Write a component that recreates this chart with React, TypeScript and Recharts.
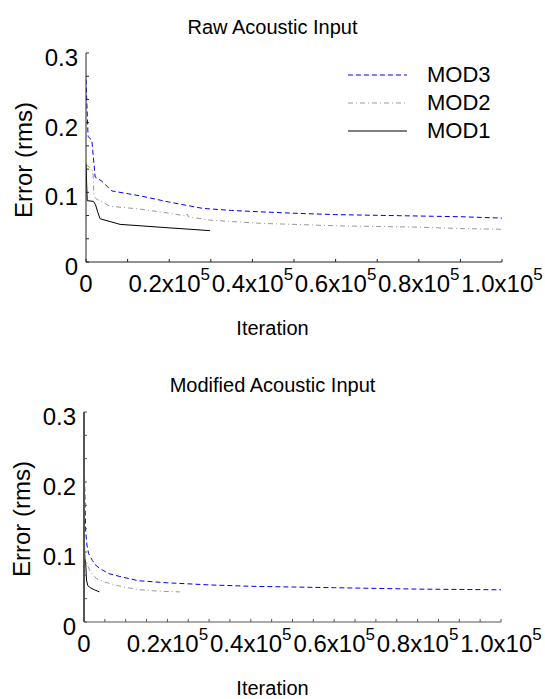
import React from "react";
import { LineChart, Line, XAxis, YAxis } from "recharts";

const FONT = '"Liberation Sans", Arial, Helvetica, sans-serif';

// axis ticks
const xMajorTicks = [0, 20000, 40000, 60000, 80000, 100000];
const xMajorLabels = ["0", "0.2", "0.4", "0.6", "0.8", "1.0"];
const yMajorTicks = [0, 0.1, 0.2, 0.3];
const yMajorLabels = ["0", "0.1", "0.2", "0.3"];

// Raw Acoustic Input  [iteration, error]
const rawMod3: [number, number][] = [
  [0, 0.262], [500, 0.18], [1400, 0.175], [2200, 0.122], [3800, 0.116],
  [6200, 0.102], [13000, 0.095], [20000, 0.086], [28000, 0.077], [35000, 0.074],
  [42000, 0.072], [50000, 0.07], [60000, 0.068], [70000, 0.067], [80000, 0.066],
  [90000, 0.065], [100000, 0.063],
];
const rawMod2: [number, number][] = [
  [0, 0.14], [1400, 0.133], [1700, 0.128], [1900, 0.094], [2600, 0.09],
  [5800, 0.08], [13000, 0.076], [20000, 0.07], [24000, 0.066], [24300, 0.069],
  [24600, 0.065], [30000, 0.06], [42000, 0.0555], [50000, 0.054], [60000, 0.052],
  [70000, 0.051], [80000, 0.05], [90000, 0.048], [100000, 0.047],
];
const rawMod1: [number, number][] = [
  [0, 0.14], [300, 0.088], [1800, 0.087], [2300, 0.082], [2800, 0.072],
  [3400, 0.062], [5800, 0.058], [8200, 0.054], [13000, 0.052], [20000, 0.049],
  [25000, 0.047], [29800, 0.045],
];

// Modified Acoustic Input
const modMod3: [number, number][] = [
  [0, 0.262], [150, 0.2], [250, 0.17], [400, 0.13], [700, 0.11], [1100, 0.098],
  [2000, 0.088], [3000, 0.08], [4500, 0.074], [6000, 0.069], [8600, 0.065],
  [13000, 0.059], [20000, 0.056], [30000, 0.053], [40000, 0.051], [50000, 0.05],
  [60000, 0.049], [70000, 0.048], [80000, 0.047], [90000, 0.0465], [100000, 0.046],
];
const modMod2: [number, number][] = [
  [0, 0.13], [200, 0.09], [600, 0.085], [1500, 0.072], [3000, 0.062],
  [5000, 0.057], [7400, 0.053], [10000, 0.0495], [13400, 0.046], [18000, 0.044],
  [23000, 0.043],
];
const modMod1: [number, number][] = [
  [0, 0.14], [200, 0.09], [400, 0.085], [600, 0.06], [900, 0.052],
  [1500, 0.049], [2500, 0.046], [3700, 0.043],
];

const toPoints = (arr: [number, number][]) => arr.map(([x, y]) => ({ x, y }));

const series = [
  { name: "MOD3", stroke: "#0000ff", dash: "5 3" },
  { name: "MOD2", stroke: "#999999", dash: "5 3 1 3" },
  { name: "MOD1", stroke: "#000000", dash: undefined },
];

const TICK_FONT = 24;

const makeXTick = (axisColor: string, axisY: number) => (props: any) => {
  const { x, payload } = props;
  const y = axisY;
  const idx = xMajorTicks.indexOf(payload.value);
  return (
    <g>
      <line x1={x} x2={x} y1={y} y2={y - 3} stroke={axisColor} />
      {idx === 0 && (
        <text x={x} y={y + 30} textAnchor="middle" fontSize={TICK_FONT} fill="#000" fontFamily={FONT}>0</text>
      )}
      {idx > 0 && (
        <text x={x} y={y + 30} textAnchor="middle" fontSize={TICK_FONT} fill="#000" fontFamily={FONT}>
          {xMajorLabels[idx]}x10<tspan dy={-12} fontSize={17}>5</tspan>
        </text>
      )}
    </g>
  );
};

const makeYTick = (axisColor: string, axisX: number) => (props: any) => {
  const { y, payload } = props;
  const x = axisX;
  const idx = yMajorTicks.findIndex((t) => Math.abs(t - payload.value) < 1e-6);
  return (
    <g>
      <line x1={x} x2={x + 3} y1={y} y2={y} stroke={axisColor} />
      {idx >= 0 && (
        <text x={x - 8} y={y + 13} textAnchor="end" fontSize={TICK_FONT} fill="#000" fontFamily={FONT}>
          {yMajorLabels[idx]}
        </text>
      )}
    </g>
  );
};

const yTicks = Array.from({ length: 10 }, (_, i) => i / 30);

function Panel({
  data, top, height, plotTop, plotBottom, plotLeft, plotRight, minorStep, axisColor, axisWidth,
}: {
  data: [number, number][][];
  top: number;
  height: number;
  plotTop: number;
  plotBottom: number;
  plotLeft: number;
  plotRight: number;
  minorStep: number;
  axisColor: string;
  axisWidth: number;
}) {
  const xTicks = Array.from({ length: Math.round(100000 / minorStep) + 1 }, (_, i) => i * minorStep);
  const margin = { top: plotTop, right: 545 - plotRight, bottom: height - plotBottom - 10, left: plotLeft - 10 };
  return (
    <div style={{ position: "absolute", left: 0, top }}>
      <LineChart width={545} height={height} margin={margin}>
        <XAxis
          type="number"
          dataKey="x"
          domain={[0, 100000]}
          ticks={xTicks}
          interval={0}
          height={10}
          tickSize={0}
          tickMargin={0}
          tickLine={false}
          axisLine={{ stroke: axisColor, strokeWidth: 1 }}
          tick={makeXTick(axisColor, plotBottom)}
          allowDataOverflow
        />
        <YAxis
          type="number"
          dataKey="y"
          domain={[0, 0.3]}
          ticks={yTicks}
          interval={0}
          width={10}
          tickSize={0}
          tickMargin={0}
          tickLine={false}
          axisLine={{ stroke: axisColor, strokeWidth: axisWidth }}
          tick={makeYTick(axisColor, plotLeft)}
          allowDataOverflow
        />
        {data.map((d, i) => (
          <Line
            key={series[i].name}
            data={toPoints(d)}
            dataKey="y"
            name={series[i].name}
            type="linear"
            stroke={series[i].stroke}
            strokeDasharray={series[i].dash}
            strokeWidth={1}
            dot={false}
            activeDot={false}
            isAnimationActive={false}
          />
        ))}
      </LineChart>
    </div>
  );
}

const textStyle: React.CSSProperties = {
  position: "absolute",
  fontFamily: FONT,
  color: "#000",
  whiteSpace: "nowrap",
  lineHeight: 1,
};

function Legend() {
  const rows = [
    { s: series[0], y: 75 },
    { s: series[1], y: 103 },
    { s: series[2], y: 131 },
  ];
  return (
    <>
      <svg style={{ position: "absolute", left: 0, top: 0 }} width={545} height={160}>
        {rows.map((r) => (
          <line key={r.s.name} x1={348} x2={407} y1={r.y} y2={r.y}
            stroke={r.s.stroke} strokeDasharray={r.s.dash} strokeWidth={1} />
        ))}
      </svg>
      {rows.map((r) => (
        <div key={r.s.name} style={{ ...textStyle, left: 427, top: r.y - 11, fontSize: 22 }}>{r.s.name}</div>
      ))}
    </>
  );
}

export default function App() {
  return (
    <div style={{ position: "absolute", left: 0, top: 0, width: 545, height: 699, background: "#fff", overflow: "hidden" }}>
      <div style={{ ...textStyle, left: 0, width: 545, textAlign: "center", top: 17, fontSize: 20 }}>Raw Acoustic Input</div>
      <Panel
        data={[rawMod3, rawMod2, rawMod1]}
        top={0}
        height={350}
        plotTop={53}
        plotBottom={262}
        plotLeft={86}
        plotRight={502}
        minorStep={10000}
        axisColor="#222"
        axisWidth={1}
      />
      <Legend />
      <div style={{ ...textStyle, left: 24 - 80, width: 160, textAlign: "center", top: 160 - 12, fontSize: 24, transform: "rotate(-90deg)" }}>Error (rms)</div>
      <div style={{ ...textStyle, left: 0, width: 545, textAlign: "center", top: 318, fontSize: 20 }}>Iteration</div>

      <div style={{ ...textStyle, left: 0, width: 545, textAlign: "center", top: 375, fontSize: 20 }}>Modified Acoustic Input</div>
      <Panel
        data={[modMod3, modMod2, modMod1]}
        top={360}
        height={339}
        plotTop={52}
        plotBottom={262}
        plotLeft={84}
        plotRight={501}
        minorStep={5000}
        axisColor="#555"
        axisWidth={2}
      />
      <div style={{ ...textStyle, left: 22 - 80, width: 160, textAlign: "center", top: 519 - 12, fontSize: 24, transform: "rotate(-90deg)" }}>Error (rms)</div>
      <div style={{ ...textStyle, left: 0, width: 545, textAlign: "center", top: 678, fontSize: 20 }}>Iteration</div>
    </div>
  );
}
